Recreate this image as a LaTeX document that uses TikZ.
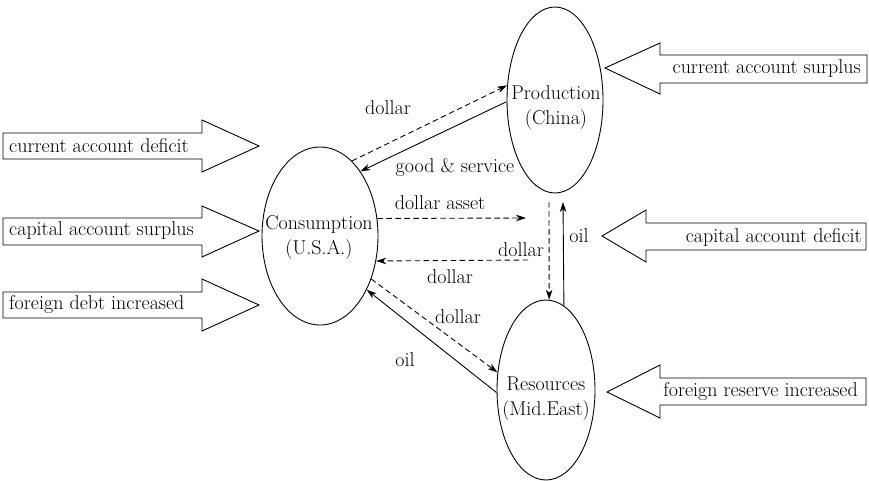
\documentclass[tikz,border=0pt]{standalone}
\usetikzlibrary{shapes.geometric,arrows.meta}
\begin{document}
\begin{tikzpicture}[x=1pt,y=-1pt,
  every node/.style={font=\fontsize{20}{25}\selectfont, inner sep=0pt},
  ell/.style={draw, ellipse, line width=0.9pt},
  txt/.style={align=center},
  lbl/.style={},
  arr/.style={-{Stealth[length=10pt,width=6.5pt,inset=3pt]}, line width=0.9pt},
  dsh/.style={arr, dash pattern=on 5.5pt off 3.5pt},
  blk/.style={draw, line width=0.9pt}]
\useasboundingbox (0,0) rectangle (869,480);

% ellipses
\node[ell, minimum width=116pt, minimum height=178pt] (cons) at (320,236) {};
\node[ell, minimum width=96pt, minimum height=186pt] (prod) at (555,100) {};
\node[ell, minimum width=98pt, minimum height=180pt] (res) at (546,390) {};
\node[txt] (constext) at (319,238) {Consumption\\(U.S.A.)};
\node[txt] (prodtext) at (556,108) {Production\\(China)};
\node[txt] (restext) at (546,399) {Resources\\(Mid.East)};

% free ends
\coordinate (dae) at (526,218);
\coordinate (dls) at (528,260);
\coordinate (dvs) at (549,202);
\coordinate (ove) at (563,202);

% connectors
\draw[dsh] (cons.67.9) -- (prod.163.7);
\draw[arr] (prod.182) -- (cons.58.8);
\draw[dsh] (cons.17.5) -- (dae);
\draw[dsh] (dls) -- (cons.336.8);
\draw[dsh] (dvs) -- (res.88);
\draw[arr] (res.78.6) -- (ove);
\draw[dsh] (cons.320.3) -- (res.160.9);
\draw[arr] (res.183.5) -- (cons.311);

% connector labels
\node[lbl] (l1) at (388,108) {dollar};
\node[lbl] (l2) at (455,167) {good \& service};
\node[lbl] (l3) at (440,203) {dollar asset};
\node[lbl] (l4) at (521,250) {dollar};
\node[lbl] (l5) at (450,277) {dollar};
\node[lbl] (l6) at (579,236) {oil};
\node[lbl] (l7) at (458,317) {dollar};
\node[lbl] (l8) at (405,360) {oil};

% left block arrows
\draw[blk] (3,133) -- (202,133) -- (202,120) -- (259,146) -- (202,172) -- (202,159) -- (3,159) -- cycle;
\node[anchor=west] (a1) at (9,146) {current account deficit};
\draw[blk] (3,218) -- (202,218) -- (202,206) -- (259,231) -- (202,257) -- (202,245) -- (3,245) -- cycle;
\node[anchor=west] (a2) at (9,231) {capital account surplus};
\draw[blk] (3,292) -- (202,292) -- (202,279) -- (259,305) -- (202,331) -- (202,318) -- (3,318) -- cycle;
\node[anchor=west] (a3) at (9,305) {foreign debt increased};

% right block arrows
\draw[blk] (867,55) -- (660,55) -- (660,43) -- (605,68) -- (660,94) -- (660,83) -- (867,83) -- cycle;
\node[anchor=east] (b1) at (861,69) {current account surplus};
\draw[blk] (866,223) -- (646,223) -- (646,210) -- (602,236) -- (646,262) -- (646,250) -- (866,250) -- cycle;
\node[anchor=east] (b2) at (862,237) {capital account deficit};
\draw[blk] (866,378) -- (660,378) -- (660,365) -- (607,392) -- (660,418) -- (660,405) -- (866,405) -- cycle;
\node[anchor=east] (b3) at (858,392) {foreign reserve increased};
\end{tikzpicture}
\end{document}
